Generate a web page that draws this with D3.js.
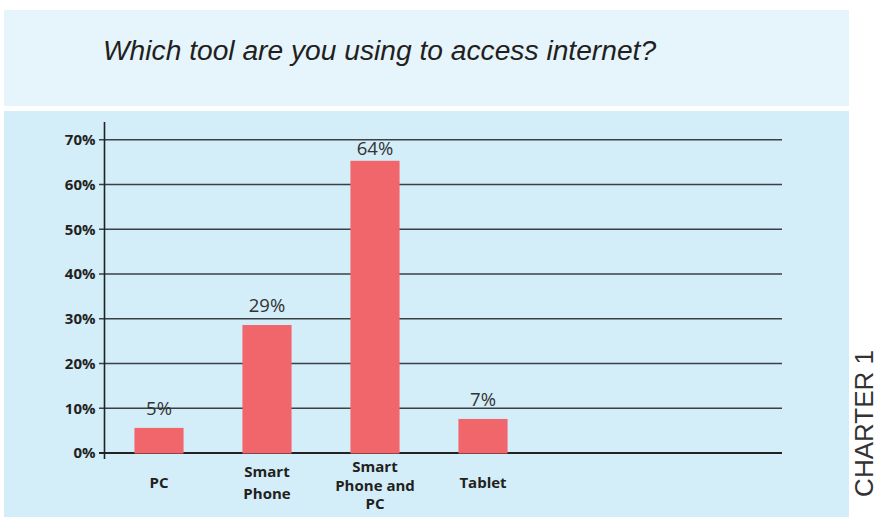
<!DOCTYPE html>
<html>
<head>
<meta charset="utf-8">
<script src="https://cdn.jsdelivr.net/npm/d3@7"></script>
<style>
  html, body { margin: 0; padding: 0; background: #ffffff; }
  svg { display: block; }
</style>
</head>
<body>
<svg id="chart" width="881" height="517"></svg>
<script>
// ---- data ----
const title = "Which tool are you using to access internet?";
const sideLabel = "CHARTER 1";
const categories = ["PC", "Smart\nPhone", "Smart\nPhone and\nPC", "Tablet"];
const values = [5.5, 28.5, 65.2, 7.5];          // bar heights as drawn (%)
const valueLabels = ["5%", "29%", "64%", "7%"]; // printed labels
const yTicks = [0, 10, 20, 30, 40, 50, 60, 70];

// ---- layout ----
const svg = d3.select("#chart");
const W = 881, H = 517;
const plot = { left: 104.5, right: 782, top: 139.3, bottom: 452.5 };

// panels
svg.append("rect").attr("x", 4).attr("y", 10).attr("width", 845).attr("height", 96)
  .attr("fill", "#e6f5fc");
svg.append("rect").attr("x", 4).attr("y", 111).attr("width", 845).attr("height", H - 111)
  .attr("fill", "#d3edf9");

// title
svg.append("text")
  .attr("x", 103).attr("y", 59.5)
  .attr("font-family", "'Liberation Sans', Arial, sans-serif")
  .attr("font-style", "italic")
  .attr("font-size", 28.2)
  .attr("fill", "#231f20")
  .text(title);

// scales
const y = d3.scaleLinear().domain([0, 70]).range([plot.bottom, plot.top]);
const x = d3.scaleBand()
  .domain(categories)
  .range([105, 537])
  .paddingInner(0.545)
  .paddingOuter(0.2725);

// gridlines (extend slightly left of axis as tick marks)
const grid = svg.append("g")
  .attr("transform", `translate(99,0)`)
  .call(d3.axisRight(y).tickValues(yTicks).tickSize(plot.right - 99).tickFormat(""));
grid.select(".domain").remove();
grid.selectAll(".tick line")
  .attr("stroke", "#3a4045")
  .attr("stroke-width", 1.4);
grid.selectAll(".tick").filter(d => d === 0).select("line")
  .attr("stroke", "#222")
  .attr("stroke-width", 1.8);

// y tick labels
const yAxis = svg.append("g")
  .attr("transform", `translate(${plot.left},0)`)
  .call(d3.axisLeft(y).tickValues(yTicks).tickSize(0).tickPadding(9).tickFormat(d => d + "%"));
yAxis.select(".domain").remove();
yAxis.selectAll("text")
  .attr("font-family", "'Open Sans', sans-serif")
  .attr("font-weight", "bold")
  .attr("font-size", 15)
  .attr("fill", "#231f20")
  .attr("dy", "0.36em");

// y axis line
svg.append("line")
  .attr("x1", plot.left).attr("x2", plot.left)
  .attr("y1", 122).attr("y2", 459)
  .attr("stroke", "#222").attr("stroke-width", 1.6);

// bars
svg.append("g").selectAll("rect")
  .data(values)
  .join("rect")
  .attr("x", (d, i) => x(categories[i]))
  .attr("width", x.bandwidth())
  .attr("y", d => y(d))
  .attr("height", d => y(0) + 1 - y(d))
  .attr("fill", "#f1666b");

// value labels
svg.append("g").selectAll("text")
  .data(values)
  .join("text")
  .attr("x", (d, i) => x(categories[i]) + x.bandwidth() / 2)
  .attr("y", d => Math.max(y(d) - 13, y(70) + 16))
  .attr("text-anchor", "middle")
  .attr("font-family", "'Open Sans', sans-serif")
  .attr("font-size", 18.5)
  .attr("fill", "#333")
  .text((d, i) => valueLabels[i]);

// x axis labels
const xAxis = svg.append("g")
  .attr("transform", `translate(0,${plot.bottom})`)
  .call(d3.axisBottom(x).tickSize(0).tickFormat(""));
xAxis.select(".domain").remove();
xAxis.selectAll(".tick").each(function(d) {
  const lines = d.split("\n");
  const lh = lines.length === 3 ? 18.5 : 22;
  const mid = lines.length === 3 ? 38 : 35.5;
  const t = d3.select(this).append("text")
    .attr("text-anchor", "middle")
    .attr("font-family", "'Open Sans', sans-serif")
    .attr("font-weight", "bold")
    .attr("font-size", 15)
    .attr("fill", "#231f20");
  lines.forEach((ln, i) => {
    t.append("tspan")
      .attr("x", 0)
      .attr("y", mid + (i - (lines.length - 1) / 2) * lh)
      .text(ln);
  });
});

// side label
svg.append("text")
  .attr("transform", "translate(873,350) rotate(-90)")
  .attr("text-anchor", "end")
  .attr("font-family", "'Liberation Sans', Arial, sans-serif")
  .attr("font-size", 26)
  .attr("fill", "#333")
  .text(sideLabel);
</script>
</body>
</html>
